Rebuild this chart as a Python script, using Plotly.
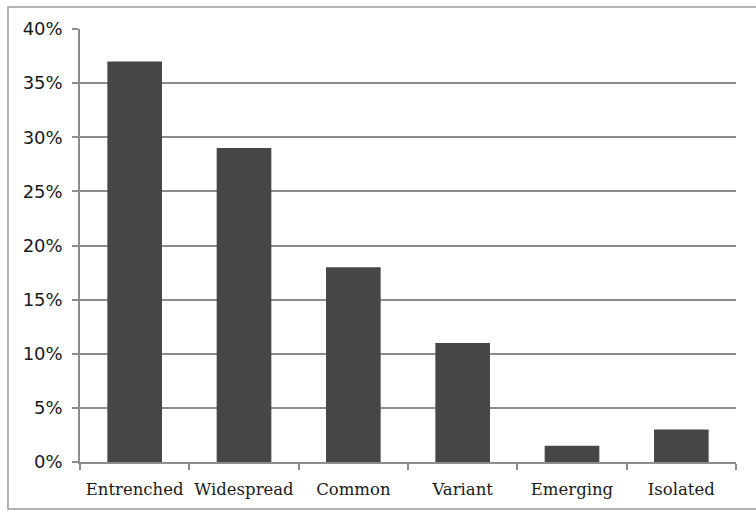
import plotly.graph_objects as go

# Share of cases by spread category
categories = ["Entrenched", "Widespread", "Common", "Variant", "Emerging", "Isolated"]
shares = [0.37, 0.29, 0.18, 0.11, 0.015, 0.03]
y_ticks = [0, 0.05, 0.10, 0.15, 0.20, 0.25, 0.30, 0.35, 0.40]

fig = go.Figure(
    go.Bar(
        x=categories,
        y=shares,
        marker=dict(color="#464646", line=dict(width=0)),
        hoverinfo="x+y",
    )
)

grid_col = "#8c8c8c"

fig.update_layout(
    width=756,
    height=511,
    margin=dict(l=80, r=20, t=29, b=49),
    paper_bgcolor="white",
    plot_bgcolor="white",
    bargap=0.5,
    showlegend=False,
    xaxis=dict(
        type="category",
        automargin=False,
        showgrid=False,
        showline=True,
        linecolor=grid_col,
        linewidth=1.5,
        ticks="outside",
        tickson="boundaries",
        ticklen=6,
        tickcolor=grid_col,
        tickwidth=1.5,
        tickangle=0,
        tickfont=dict(family="DejaVu Serif", size=16.5, color="#1a1a1a"),
        ticklabelstandoff=11,
    ),
    yaxis=dict(
        automargin=False,
        range=[0, 0.40],
        tickvals=y_ticks,
        tickformat=".0%",
        showgrid=True,
        gridcolor=grid_col,
        gridwidth=1.5,
        showline=True,
        linecolor=grid_col,
        linewidth=1.5,
        ticks="outside",
        ticklen=6,
        tickcolor=grid_col,
        tickwidth=1.5,
        zeroline=False,
        tickfont=dict(family="DejaVu Sans", size=18, color="#1a1a1a"),
        ticklabelstandoff=6,
    ),
    shapes=[
        dict(
            type="rect",
            xref="paper",
            yref="paper",
            x0=-0.1098,
            x1=1.06,
            y0=-0.1085,
            y1=1.0508,
            line=dict(color="#9a9a9a", width=1.5),
            fillcolor="rgba(0,0,0,0)",
            layer="below",
        )
    ],
)

fig.write_html("out.html")
